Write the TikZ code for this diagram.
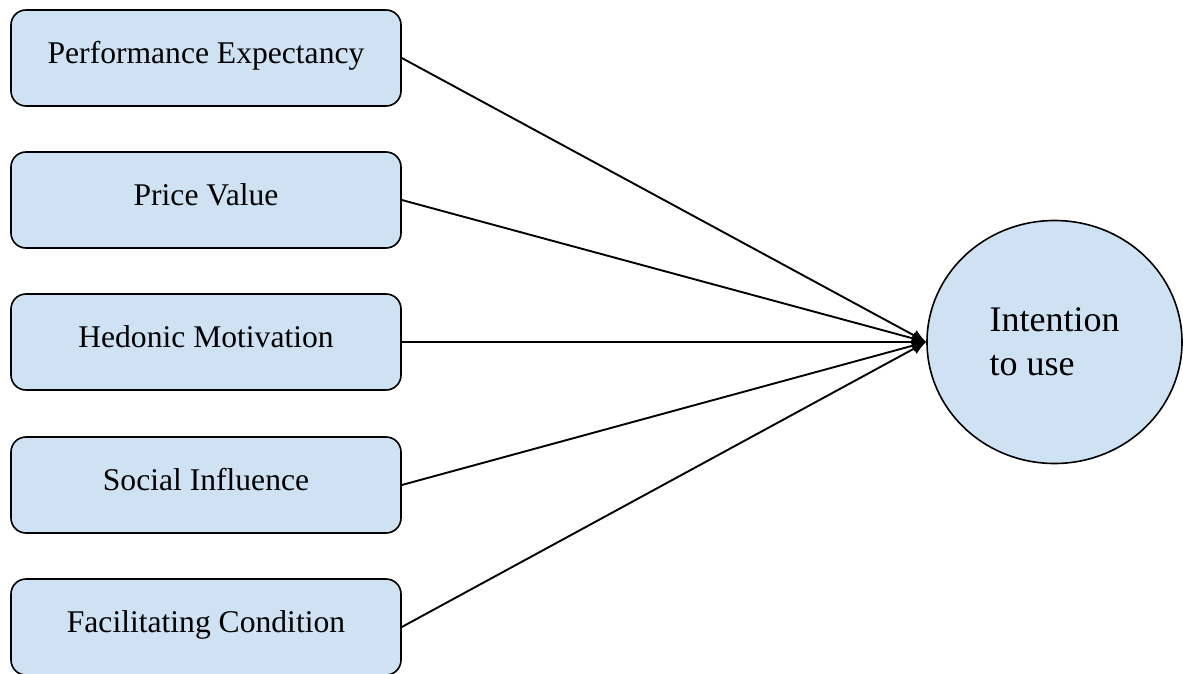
\documentclass[tikz,border=0pt]{standalone}
\usepackage{fontspec}
\setmainfont{Liberation Serif}
\usetikzlibrary{arrows.meta}
\usetikzlibrary{shapes}

\definecolor{boxBlue}{RGB}{207,226,243}

\begin{document}
\begin{tikzpicture}[x = 0.5pt, y = -0.5pt]
	\tikzstyle{factorStyle}=[shape = rectangle, rounded corners = 7.5pt, draw, line width = 0.8pt, fill = boxBlue, minimum width = 195pt, minimum height = 48pt, inner sep = 0pt, text height = 10.5pt, text depth = 5pt, font = \fontsize{15.8}{19}\selectfont]
	\tikzstyle{targetStyle}=[shape = ellipse, draw, line width = 0.8pt, fill = boxBlue, minimum width = 127.5pt, minimum height = 121.5pt, inner sep = 0pt, align = left, font = \fontsize{18}{22}\selectfont]
	\tikzstyle{EdgeStyle}=[line width = 0.95pt, -{Latex[length = 7pt, width = 6pt]}]
	\useasboundingbox (0, 0) rectangle (1183, 674);
	\node[factorStyle] (f1) at (206, 58) {Performance Expectancy};
	\node[factorStyle] (f2) at (206, 200) {Price Value};
	\node[factorStyle] (f3) at (206, 342) {Hedonic Motivation};
	\node[factorStyle] (f4) at (206, 485) {Social Influence};
	\node[factorStyle] (f5) at (206, 627) {Facilitating Condition};
	\node[targetStyle] (iu) at (1054.5, 342) {Intention\\to use};
	\draw[EdgeStyle] (f1.east) -- (iu.west);
	\draw[EdgeStyle] (f2.east) -- (iu.west);
	\draw[EdgeStyle] (f3.east) -- (iu.west);
	\draw[EdgeStyle] (f4.east) -- (iu.west);
	\draw[EdgeStyle] (f5.east) -- (iu.west);
\end{tikzpicture}
\end{document}
